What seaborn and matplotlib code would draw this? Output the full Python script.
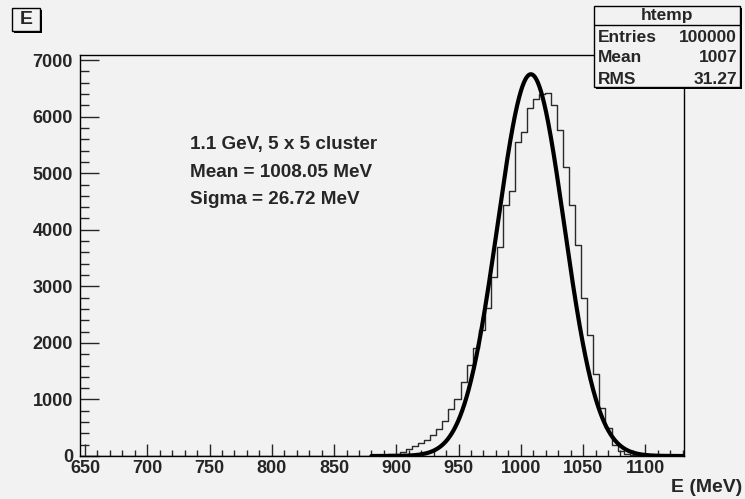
import numpy as np
import pandas as pd
import matplotlib
matplotlib.use("Agg")
import matplotlib.pyplot as plt
import seaborn as sns
from matplotlib.patches import Rectangle
from matplotlib.lines import Line2D
from matplotlib.ticker import MultipleLocator

# ---------------- data ----------------
x_min, x_max, n_bins = 646.0, 1131.0, 100
first_bin = 45
counts_nonzero = [3, 5, 7, 10, 14, 20, 30, 40, 65, 115,
                  170, 225, 285, 375, 480, 615, 835, 1000, 1310, 1610,
                  1910, 2230, 2620, 3170, 3700, 4430, 4690, 5550, 5730, 6160,
                  6310, 6400, 6410, 6200, 5760, 5110, 4440, 3730, 2800, 2140,
                  1450, 840, 500, 200, 80, 32, 12, 5, 2]
bin_counts = [0] * first_bin + counts_nonzero + [0] * (n_bins - first_bin - len(counts_nonzero))

fit_amplitude, fit_mean, fit_sigma = 6750.0, 1008.05, 26.72
fit_lo, fit_hi = 880.0, 1131.0

x_ticks = [650, 700, 750, 800, 850, 900, 950, 1000, 1050, 1100]
y_ticks = [0, 1000, 2000, 3000, 4000, 5000, 6000, 7000]
y_max = 7090

stats_title = "htemp"
stats_names = ["Entries", "Mean", "RMS"]
stats_values = ["100000", "1007", "31.27"]
note_lines = ["1.1 GeV, 5 x 5 cluster", "Mean = 1008.05 MeV", "Sigma = 26.72 MeV"]
hist_title = "E"
x_label = "E (MeV)"

# ---------------- figure ----------------
sns.set_style("ticks")
plt.rcParams["font.family"] = ["Liberation Sans", "DejaVu Sans"]
plt.rcParams["font.weight"] = "bold"
BG = "#f2f2f2"
W, H = 745, 499
fig = plt.figure(figsize=(W / 100, H / 100), dpi=100, facecolor=BG)

def fx(px):
    return px / W

def fy(py):
    return 1 - py / H

L, R, T, B = 80, 684, 55, 456
ax = fig.add_axes([fx(L), fy(B), fx(R) - fx(L), fy(T) - fy(B)])
ax.set_facecolor(BG)

bin_width = (x_max - x_min) / n_bins
centers = x_min + bin_width * (np.arange(n_bins) + 0.5)
df = pd.DataFrame({"E": centers, "n": bin_counts})
sns.histplot(data=df, x="E", weights="n", bins=n_bins, binrange=(x_min, x_max),
             element="step", fill=False, color="#2a2a2a", linewidth=1.0, ax=ax)

fit_x = np.linspace(fit_lo, fit_hi, 600)
fit_df = pd.DataFrame({"E": fit_x,
                       "f": fit_amplitude * np.exp(-0.5 * ((fit_x - fit_mean) / fit_sigma) ** 2)})
sns.lineplot(data=fit_df, x="E", y="f", color="black", linewidth=3.0, ax=ax)

ax.set_xlim(x_min, x_max)
ax.set_ylim(0, y_max)
ax.set_xticks(x_ticks)
ax.set_yticks(y_ticks)
ax.xaxis.set_minor_locator(MultipleLocator(10))
ax.yaxis.set_minor_locator(MultipleLocator(200))
ax.set_xlabel("")
ax.set_ylabel("")
for s in ax.spines.values():
    s.set_visible(True)
    s.set_color("black")
    s.set_linewidth(1.0)
ax.tick_params(axis="y", which="major", direction="in", length=13.5, width=1,
               left=True, right=False, pad=5, labelsize=13)
ax.tick_params(axis="y", which="minor", direction="in", length=6.7, width=1, left=True, right=False)
ax.tick_params(axis="x", which="major", direction="in", length=8.6, width=1,
               bottom=True, top=False, pad=3, labelsize=13)
ax.tick_params(axis="x", which="minor", direction="in", length=4.3, width=1, bottom=True, top=False)
for lab in ax.get_xticklabels() + ax.get_yticklabels():
    lab.set_fontweight("bold")

# annotation text
for i, line in enumerate(note_lines):
    fig.text(fx(190), fy(145 + i * 27.5), line, fontsize=13.6, fontweight="bold",
             ha="left", va="center")

# x axis title
fig.text(fx(742), fy(487), x_label, fontsize=14, fontweight="bold", ha="right", va="center")

# boxes with shadow
def shadow_box(x0, y0, x1, y1, sh=2):
    fig.patches.append(Rectangle((fx(x0 + sh), fy(y1 + sh)), fx(x1) - fx(x0), fy(y0) - fy(y1),
                                 transform=fig.transFigure, facecolor="black", edgecolor="none", zorder=5))
    fig.patches.append(Rectangle((fx(x0), fy(y1)), fx(x1) - fx(x0), fy(y0) - fy(y1),
                                 transform=fig.transFigure, facecolor=BG, edgecolor="black",
                                 linewidth=1, zorder=6))

shadow_box(12, 8, 40, 31)
fig.text(fx(26), fy(19.5), hist_title, fontsize=14, fontweight="bold", ha="center", va="center", zorder=7)

shadow_box(594, 6, 740, 87)
fig.lines.append(Line2D([fx(594), fx(740)], [fy(25), fy(25)], transform=fig.transFigure,
                        color="black", linewidth=1, zorder=7))
fig.text(fx(667), fy(15.5), stats_title, fontsize=12.5, fontweight="bold", ha="center", va="center", zorder=7)
for i, (nm, val) in enumerate(zip(stats_names, stats_values)):
    yy = fy(37 + i * 21)
    fig.text(fx(598), yy, nm, fontsize=12.5, fontweight="bold", ha="left", va="center", zorder=7)
    fig.text(fx(737), yy, val, fontsize=12.5, fontweight="bold", ha="right", va="center", zorder=7)

fig.savefig("out.png", dpi=100, facecolor=BG)
